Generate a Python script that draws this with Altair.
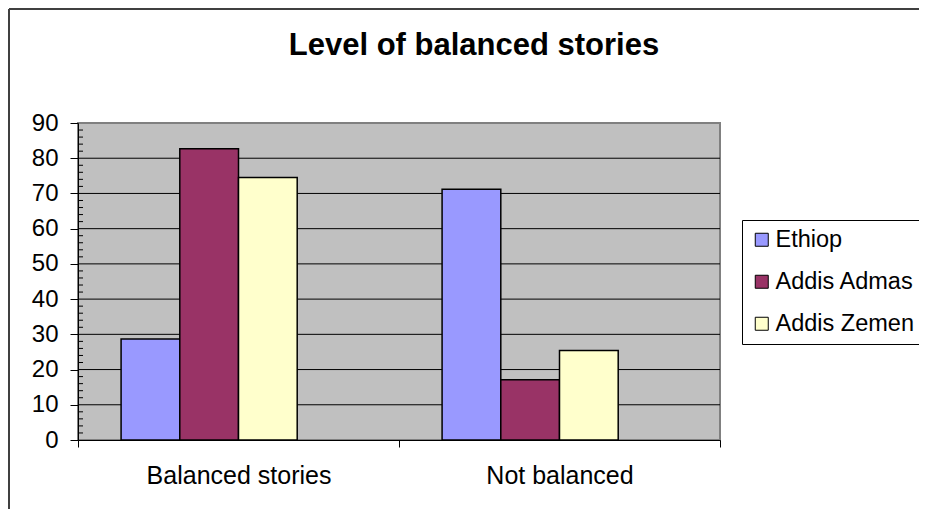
import altair as alt
import pandas as pd

categories = ["Balanced stories", "Not balanced"]
series = ["Ethiop", "Addis Admas", "Addis Zemen"]
ethiop = [28.7, 71.2]
addis_admas = [82.7, 17.1]
addis_zemen = [74.5, 25.4]
colors = ["#9999FF", "#993366", "#FFFFCC"]
y_major = [0, 10, 20, 30, 40, 50, 60, 70, 80, 90]
y_grid = [10, 20, 30, 40, 50, 60, 70, 80]
y_minor = [v for v in range(2, 90, 2) if v % 10 != 0]

rows = []
for s, vals in zip(series, [ethiop, addis_admas, addis_zemen]):
    for c, v in zip(categories, vals):
        rows.append({"category": c, "series": s, "value": v})
df = pd.DataFrame(rows)

FONT = "Liberation Sans"
W, H = 642, 317

yscale = alt.Scale(domain=[0, 90], nice=False)
y_axis = alt.Axis(
    title=None, values=y_major, labelFontSize=24, labelFont=FONT, labelColor="black",
    tickSize=8, tickColor="black", domainColor="black", labelPadding=12, grid=False,
)

grid = alt.Chart(pd.DataFrame({"value": y_grid})).mark_rule(color="black", strokeWidth=1).encode(
    y=alt.Y("value:Q", scale=yscale, axis=y_axis)
)

bars = alt.Chart(df).mark_bar(stroke="black", strokeWidth=1.5).encode(
    x=alt.X(
        "category:N",
        sort=categories,
        scale=alt.Scale(paddingInner=0, paddingOuter=0),
        axis=alt.Axis(
            title=None, labelAngle=0, labelFontSize=25, labelFont=FONT, labelColor="black",
            tickBand="extent", tickSize=7, tickColor="black", domainColor="black",
            labelPadding=16, grid=False, labelLimit=400,
        ),
    ),
    xOffset=alt.XOffset(
        "series:N",
        scale=alt.Scale(domain=series + ["(none)"], paddingInner=0, paddingOuter=0.734),
    ),
    y=alt.Y("value:Q", scale=yscale, axis=y_axis),
    color=alt.Color(
        "series:N",
        sort=series,
        scale=alt.Scale(domain=series, range=colors),
        legend=alt.Legend(
            title=None, orient="none", legendX=664, legendY=97,
            symbolType="square", symbolSize=169, symbolStrokeColor="black", symbolStrokeWidth=1,
            labelFontSize=23.5, labelFont=FONT, labelColor="black", labelOffset=2,
            rowPadding=17, padding=8, strokeColor="black", fillColor="white",
            labelLimit=300,
        ),
    ),
)

minor = alt.Chart(pd.DataFrame({"value": y_minor})).mark_rule(color="black", strokeWidth=1).encode(
    y=alt.Y("value:Q", scale=yscale, axis=y_axis),
    x=alt.value(0),
    x2=alt.value(5),
)

one = alt.Data(values=[{"a": 1}])
frame_left = alt.Chart(one).mark_rule(color="#404040", strokeWidth=2).encode(
    x=alt.value(-69), x2=alt.value(-69), y=alt.value(-114), y2=alt.value(H + 69)
)
frame_top = alt.Chart(one).mark_rule(color="#404040", strokeWidth=2).encode(
    x=alt.value(-69), x2=alt.value(W + 199), y=alt.value(-114), y2=alt.value(-114)
)

chart = alt.layer(grid, bars, minor, frame_left, frame_top).properties(
    width=W,
    height=H,
    title=alt.TitleParams(
        "Level of balanced stories", fontSize=31, fontWeight="bold", font=FONT, color="black",
        anchor="middle", dx=75, baseline="alphabetic", offset=0, dy=78,
    ),
    autosize=alt.AutoSizeParams(type="none"),
    padding={"left": 70, "top": 115, "right": 199, "bottom": 69},
).configure(
    background="white"
).configure_view(
    stroke="#808080", strokeWidth=2, fill="#C0C0C0"
)

chart.save("out.html", embed_options={"renderer": "svg", "actions": False})
